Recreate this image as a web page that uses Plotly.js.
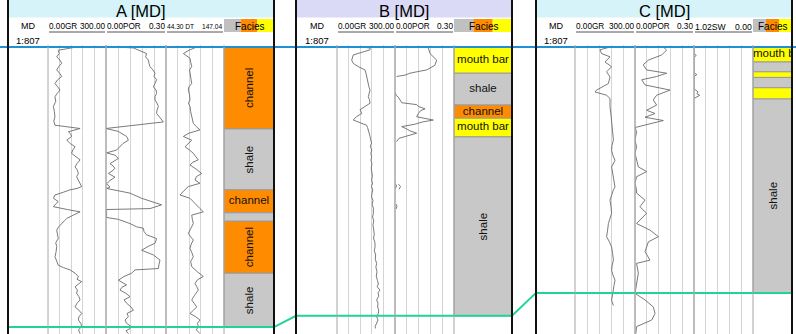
<!DOCTYPE html>
<html><head><meta charset="utf-8">
<script src="https://cdn.plot.ly/plotly-3.0.1.min.js"></script>
<style>html,body{margin:0;padding:0;background:#fff;overflow:hidden}#chart{width:796px;height:334px}</style>
</head><body><div id="chart"></div>
<script>
// ================= DATA =================
const wellNames = ["A", "B", "C"];
const scaleDenom = 807;
// horizon picks (MD): [top horizon (blue), lower horizon (green)]
const horizonA = [1500.0, 1559.8];
const horizonB = [1480.0, 1537.4];
const horizonC = [1520.0, 1572.5];

// curve scales
const grRange = [0.00, 300.00];
const porRange = [0.00, 0.30];
const dtRange = [44.30, 147.04];
const swRange = [1.02, 0.00];

// header labels
const hdrLeftA = ["0.00GR", "0.00POR", "44.30 DT"];
const hdrRightA = ["300.00", "0.30", "147.04"];
const hdrLeftB = ["0.00GR", "0.00POR"];
const hdrRightB = ["300.00", "0.30"];
const hdrLeftC = ["0.00GR", "0.00POR", "1.02SW"];
const hdrRightC = ["300.00", "0.30", "0.00"];

// ---- Well A ----
const mdA_gr = [1500.0,1500.7,1501.4,1502.1,1502.8,1503.5,1504.2,1504.9,1505.6,1506.3,1507.0,1507.8,1508.5,1509.2,1509.9,1510.6,1511.6,1512.7,1513.8,1514.9,1515.8,1516.7,1517.4,1518.1,1518.6,1519.1,1519.9,1520.6,1521.3,1522.0,1522.7,1523.4,1524.1,1524.9,1525.6,1526.3,1527.0,1527.7,1528.4,1529.1,1529.8,1530.2,1530.5,1531.0,1531.6,1532.3,1533.0,1533.5,1534.1,1534.7,1535.2,1535.9,1536.6,1537.1,1537.7,1538.4,1539.1,1540.0,1540.9,1541.8,1542.6,1543.7,1544.8,1545.7,1546.6,1547.1,1547.6,1548.3,1549.0,1549.6,1550.1,1550.7,1551.2,1551.9,1552.6,1553.3,1554.0,1554.7,1555.5,1556.2,1556.9,1557.6,1558.3,1559.0,1559.7,1560.4,1561.2];
const grA = [148,53,58,45,62,71,55,45,60,71,50,36,50,62,48,36,40,28,33,36,30,36,166,105,118,122,97,115,140,128,122,145,166,150,140,152,157,148,157,165,174,150,114,80,36,28,53,40,28,100,166,131,97,85,71,55,45,50,53,40,45,42,36,45,53,80,114,140,157,150,174,155,140,152,148,160,166,150,140,160,174,160,157,170,174,158,166];
const mdA_por = [1500.0,1500.2,1500.8,1501.4,1502.1,1502.8,1503.5,1504.2,1504.9,1505.6,1506.3,1507.0,1507.8,1508.5,1509.2,1509.9,1510.6,1511.3,1512.0,1512.7,1513.5,1514.2,1515.1,1516.0,1517.4,1518.0,1519.1,1519.9,1520.6,1521.3,1522.0,1522.6,1523.1,1523.8,1524.3,1524.9,1525.4,1525.9,1526.5,1527.0,1527.8,1528.5,1529.2,1529.9,1530.2,1531.2,1532.3,1533.4,1533.7,1534.5,1534.7,1535.5,1536.4,1536.8,1537.7,1538.4,1538.7,1539.4,1540.1,1540.9,1541.9,1542.6,1543.4,1544.4,1545.5,1546.4,1547.3,1547.6,1548.3,1549.0,1549.8,1550.8,1551.3,1551.9,1552.6,1553.3,1554.0,1554.7,1555.5,1556.2,1556.9,1557.6,1558.3,1559.0,1559.5,1560.1,1560.6,1561.2];
const porA = [0.053,0.137,0.17,0.203,0.198,0.212,0.215,0.22,0.235,0.245,0.24,0.253,0.245,0.237,0.25,0.253,0.245,0.245,0.255,0.262,0.255,0.253,0.27,0.287,0.0,0.06,0.103,0.112,0.085,0.07,0.053,0.003,0.045,0.062,0.04,0.02,0.035,0.045,0.03,0.012,0.045,0.02,0.003,0.02,0.003,0.12,0.178,0.262,0.278,0.22,0.003,0.003,0.003,0.062,0.12,0.153,0.187,0.19,0.203,0.253,0.245,0.21,0.178,0.237,0.27,0.265,0.262,0.145,0.128,0.09,0.062,0.103,0.08,0.07,0.1,0.12,0.09,0.103,0.125,0.137,0.105,0.112,0.095,0.103,0.12,0.12,0.1,0.112];
const mdA_dt = [1500.0,1500.7,1501.4,1502.4,1503.2,1504.2,1504.9,1505.6,1506.7,1507.8,1508.5,1509.2,1510.2,1511.3,1512.0,1512.7,1513.8,1514.9,1515.6,1516.3,1517.0,1517.7,1518.4,1519.1,1519.9,1520.6,1521.3,1522.0,1522.7,1523.4,1524.1,1524.6,1525.2,1526.1,1527.0,1527.7,1528.4,1529.1,1529.8,1530.7,1531.6,1532.3,1533.4,1534.5,1535.2,1535.9,1536.8,1537.7,1538.8,1539.8,1540.5,1541.2,1542.1,1543.0,1543.9,1544.8,1545.8,1546.9,1548.0,1549.0,1549.7,1550.5,1551.2,1551.9,1553.0,1554.0,1554.7,1555.5,1556.2,1556.9,1557.6,1558.3,1559.0,1559.7,1560.4,1561.2];
const dtA = [98.7,85,75,86.8,88,89.8,86,86.8,88,89.8,85,83.8,86,86.8,84,86.8,88,89.8,91,92.7,98,104.5,85,75,89.8,84,77.9,86,92.7,97,101.5,92,86.8,98,107.5,98,95.7,104.5,83.8,76,69.1,86.8,95,104.5,110.4,89.8,91,92.7,88,83.8,88,92.7,89,86.8,90,92.7,88,89.8,100,110.4,100,95.7,99,101.5,95,89.8,94,98.7,93,86.8,97,104.5,100,101.5,98,104.5];
const faciesA_top = [1500.0, 1517.5, 1530.5, 1535.4, 1537.2, 1548.3];
const faciesA_base = [1517.5, 1530.5, 1535.4, 1537.2, 1548.3, 1559.8];
const faciesA_name = ["channel", "shale", "channel", "shale", "channel", "shale"];

// ---- Well B ----
const mdB_gr = [1480.0,1480.2,1480.6,1481.7,1482.8,1483.5,1484.2,1484.9,1485.6,1486.3,1487.0,1487.8,1488.5,1489.2,1489.9,1490.6,1491.3,1492.0,1492.7,1493.4,1494.2,1494.9,1495.6,1496.0,1496.7,1497.2,1497.7,1498.4,1499.1,1499.8,1500.5,1501.2,1502.0,1502.7,1503.4,1504.2,1505.0,1505.8,1506.9,1507.6,1508.4,1509.1,1509.8,1510.5,1511.2,1512.0,1512.8,1513.6,1514.4,1515.5,1516.3,1517.1,1518.0,1519.1,1520.0,1520.8,1521.7,1522.6,1523.5,1524.4,1525.3,1526.2,1527.0,1528.0,1528.9,1529.8,1530.6,1531.2,1531.9,1532.5,1533.2,1534.0,1534.7,1535.5,1536.2,1536.9,1537.6,1538.3,1539.0,1539.7,1540.1];
const grB = [119,171,171,84,76,84,110,145,150,153,158,162,165,171,165,162,168,171,145,119,128,100,84,110,153,158,162,168,171,174,179,172,180,175,179,176,181,177,179,183,179,184,178,185,181,179,186,182,188,188,184,190,186,188,193,189,196,197,193,200,198,205,201,207,203,209,214,208,222,212,216,205,212,210,216,214,205,212,203,197,200];
const mdB_por = [1480.0,1480.1,1481.4,1482.8,1483.9,1484.9,1485.3,1485.6,1486.0,1486.3,null,1489.8,1490.3,1490.7,1491.3,1491.9,1492.3,1492.7,1493.2,1493.6,1494.2,1494.9,1495.6,1496.0,1496.5,1497.0,1497.5,1497.9,1498.4,1499.0,1499.5,1500.2,null,1509.1,1509.6,1510.3,null,1509.3,1509.8,1510.4,null,1513.5,1514.0,1514.6];
const porB = [0.059,0.169,0.178,0.212,0.203,0.161,0.11,0.076,0.051,0.008,null,0.003,0.005,0.017,0.025,0.034,0.11,0.119,0.153,0.13,0.119,0.11,0.195,0.14,0.1,0.034,0.06,0.076,0.11,0.06,0.02,0.008,null,0.0,0.008,0.002,null,0.018,0.028,0.02,null,0.004,0.01,0.005];
const faciesB_top = [1480.0, 1485.6, 1492.4, 1495.2, 1499.2];
const faciesB_base = [1485.6, 1492.4, 1495.2, 1499.2, 1537.4];
const faciesB_name = ["mouth bar", "shale", "channel", "mouth bar", "shale"];

// ---- Well C ----
const mdC_gr = [1520.0,1520.6,1521.4,1522.1,1523.2,1524.2,1525.3,1526.4,1527.8,1529.2,1529.6,1530.3,1531.0,1532.8,1534.5,1536.4,1538.2,1539.9,1541.0,1542.1,1543.2,1544.2,1545.6,1546.7,1547.8,1548.8,1549.9,1550.5,1551.6,1552.7,1554.1,1555.5,1556.6,1557.7,1559.1,1560.5,1561.6,1562.7,1564.1,1565.5,1566.6,1567.7,1568.7,1569.8,1570.9,1572.0,1573.1,1574.1,1575.2];
const grC = [175,125,133,175,150,183,158,175,167,108,100,158,175,175,180,183,187,192,185,183,190,200,183,188,192,196,200,192,183,175,180,183,175,167,163,158,172,183,188,192,186,183,190,200,195,192,187,183,192];
const mdC_por = [1520.0,1520.64,1521.7,1522.8,1523.8,1524.9,1525.6,1526.3,1527.0,1528.1,1529.2,1530.3,1531.3,1532.4,1533.5,1534.2,1535.0,1535.7,1536.4,1537.2,1538.1,1539.9,1541.3,1542.7,1545.6,1546.6,1547.7,1549.1,1550.5,1551.2,1552.7,1554.1,1555.5,1557.7,1559.1,1560.5,1561.6,1563.7,1565.5,1566.2,1568.3,1570.5,1572.6,1574.0,1575.5,1576.9,1578.3,1579.7,1581.2];
const porC = [0.144,0.161,0.136,0.068,0.042,0.059,0.161,0.110,0.034,0.051,0.178,0.110,0.093,0.110,0.059,0.102,0.051,0.144,0.076,0.0,0.008,0.0,0.008,0.0,0.017,0.059,0.008,0.0,0.008,0.008,0.051,0.025,0.059,0.008,0.076,0.119,0.068,0.051,0.076,0.008,0.017,0.008,0.0,0.051,0.093,0.102,0.085,0.008,0.004];
const mdC_sw = [1520.0,1521.4,1521.8,1522.2,1525.5,1525.9,1526.3,1528.9,1529.6,1530.0,1530.3,1530.8,1531.0];
const swC = [1.02,1.02,0.98,1.02,1.02,0.97,1.02,1.02,0.95,0.97,0.92,0.99,1.02];
const faciesC_top = [1520.0, 1523.2, 1525.3, 1526.5, 1528.7, 1531.1];
const faciesC_base = [1523.2, 1525.3, 1526.5, 1528.7, 1531.1, 1572.5];
const faciesC_name = ["mouth bar", "shale", "mouth bar", "shale", "mouth bar", "shale"];

// ================= STYLE / LAYOUT =================
const W = 796, H = 334;
const faciesColor = {"channel": "#ff8c00", "shale": "#c8c8c8", "mouth bar": "#ffff00"};
const horizonColor = ["#1e90d6", "#1fd39a"];
const pxPerM = 96 / 0.0254 / scaleDenom;
const TOP_PX = 47, GRID_TOP_PX = 45;
const DMIN = -(TOP_PX - GRID_TOP_PX) / pxPerM;
const DMAX = (H - TOP_PX) / pxPerM;
const py = p => 1 - p / H;

const wells = [
  {name: wellNames[0], hz: horizonA, left: 8, right: 274, md: [8, 48], fac: [224, 274], bg: "#d5f3f9",
   tracks: [
     {x: [48, 106], md: mdA_gr, v: grA, range: grRange, l: hdrLeftA[0], r: hdrRightA[0], fs: 8.2},
     {x: [106, 166], md: mdA_por, v: porA, range: porRange, l: hdrLeftA[1], r: hdrRightA[1], fs: 8.2},
     {x: [166, 224], md: mdA_dt, v: dtA, range: dtRange, l: hdrLeftA[2], r: hdrRightA[2], fs: 6.6}],
   fTop: faciesA_top, fBase: faciesA_base, fName: faciesA_name},
  {name: wellNames[1], hz: horizonB, left: 296, right: 512, md: [296, 337], fac: [454, 512], bg: "#dadaf7",
   tracks: [
     {x: [337, 395], md: mdB_gr, v: grB, range: grRange, l: hdrLeftB[0], r: hdrRightB[0], fs: 8.2},
     {x: [395, 454], md: mdB_por, v: porB, range: porRange, l: hdrLeftB[1], r: hdrRightB[1], fs: 8.2}],
   fTop: faciesB_top, fBase: faciesB_base, fName: faciesB_name},
  {name: wellNames[2], hz: horizonC, left: 536, right: 792, md: [536, 575], fac: [753, 792], bg: "#d5f3f9",
   tracks: [
     {x: [575, 635], md: mdC_gr, v: grC, range: grRange, l: hdrLeftC[0], r: hdrRightC[0], fs: 8.2},
     {x: [635, 694], md: mdC_por, v: porC, range: porRange, l: hdrLeftC[1], r: hdrRightC[1], fs: 8.2},
     {x: [694, 753], md: mdC_sw, v: swC, range: swRange, l: hdrLeftC[2], r: hdrRightC[2], fs: 8.6}],
   fTop: faciesC_top, fBase: faciesC_base, fName: faciesC_name}
];

const FONT = "Arial, 'Liberation Sans', sans-serif";
const data = [], shapes = [], annotations = [];
const layout = {
  width: W, height: H, margin: {l: 0, r: 0, t: 0, b: 0},
  paper_bgcolor: "#ffffff", plot_bgcolor: "rgba(0,0,0,0)", showlegend: false,
  font: {family: FONT, color: "#000"},
  yaxis: {domain: [0, (H - GRID_TOP_PX) / H], range: [DMAX, DMIN], visible: false, fixedrange: true},
  shapes, annotations
};
let axN = 0;
function addAxis(dom, range, grid) {
  axN++;
  const key = axN === 1 ? "xaxis" : "xaxis" + axN;
  const lo = Math.min(range[0], range[1]), hi = Math.max(range[0], range[1]);
  layout[key] = {domain: [dom[0] / W, dom[1] / W], range: range, anchor: "y",
    showgrid: grid, gridcolor: "#d4d4d4", gridwidth: 1, tick0: lo, dtick: (hi - lo) / 5,
    showticklabels: false, ticks: "", zeroline: false, showline: false, fixedrange: true};
  return axN === 1 ? "x" : "x" + axN;
}
const ctx = document.createElement("canvas").getContext("2d");
ctx.font = "11px Arial";

wells.forEach(w => {
  const flat = w.hz[0];
  const rel = m => (m === null ? null : m - flat);
  const mdC = (w.md[0] + w.md[1]) / 2;
  // title bar
  shapes.push({type: "rect", xref: "paper", yref: "paper", x0: w.left / W, x1: w.right / W, y0: py(17.5), y1: 1,
    fillcolor: w.bg, line: {width: 0}, layer: "below"});
  annotations.push({xref: "paper", yref: "paper", x: (w.left + w.right) / 2 / W, y: py(10.5), text: w.name + " [MD]",
    showarrow: false, xanchor: "center", yanchor: "middle", font: {size: 16.5, color: "#000"}});
  annotations.push({xref: "paper", yref: "paper", x: mdC / W, y: py(26), text: "MD",
    showarrow: false, xanchor: "center", yanchor: "middle", font: {size: 9}});
  annotations.push({xref: "paper", yref: "paper", x: mdC / W, y: py(40.5), text: "1:" + scaleDenom,
    showarrow: false, xanchor: "center", yanchor: "middle", font: {size: 9.5}});
  // curve tracks
  w.tracks.forEach(t => {
    const ax = addAxis(t.x, t.range, true);
    data.push({type: "scatter", mode: "lines", x: t.v, y: t.md.map(rel), xaxis: ax, yaxis: "y",
      line: {color: "#6b6b6b", width: 0.9}, connectgaps: false, hoverinfo: "skip"});
    [t.x[0], t.x[1]].forEach(xx => shapes.push({type: "line", xref: "paper", yref: "paper",
      x0: xx / W, x1: xx / W, y0: 0, y1: py(GRID_TOP_PX), line: {color: "#a6a6a6", width: 1}, layer: "above"}));
    annotations.push({xref: "paper", yref: "paper", x: (t.x[0] + 1) / W, y: py(26.5), text: t.l,
      showarrow: false, xanchor: "left", yanchor: "middle", xshift: -2, font: {size: t.fs}});
    annotations.push({xref: "paper", yref: "paper", x: (t.x[1] - 1) / W, y: py(26.5), text: t.r,
      showarrow: false, xanchor: "right", yanchor: "middle", xshift: 2, font: {size: t.fs}});
    shapes.push({type: "line", xref: "paper", yref: "paper", x0: (t.x[0] + 1) / W, x1: (t.x[1] - 1) / W,
      y0: py(32), y1: py(32), line: {color: "#555", width: 1}});
  });
  // facies header
  const fw = (w.fac[1] - w.fac[0]) / 3;
  ["#c0c0c0", "#ff8c00", "#ffff00"].forEach((c, i) => shapes.push({type: "rect", xref: "paper", yref: "paper",
    x0: (w.fac[0] + i * fw) / W, x1: (w.fac[0] + (i + 1) * fw) / W, y0: py(32), y1: py(19),
    fillcolor: c, line: {width: 0}, layer: "below"}));
  annotations.push({xref: "paper", yref: "paper", x: (w.fac[0] + w.fac[1]) / 2 / W, y: py(26), text: "Facies",
    showarrow: false, xanchor: "center", yanchor: "middle", font: {size: 10}});
  // facies column
  const fax = addAxis(w.fac, [0, 1], false);
  const trackW = w.fac[1] - w.fac[0];
  w.fTop.forEach((top, i) => {
    const base = w.fBase[i], name = w.fName[i];
    shapes.push({type: "rect", xref: "paper", yref: "y", x0: w.fac[0] / W, x1: w.fac[1] / W,
      y0: rel(top), y1: rel(base), fillcolor: faciesColor[name], line: {color: "#9a9a9a", width: 1}, layer: "below"});
    const hPx = (base - top) * pxPerM;
    const mid = rel((top + base) / 2);
    if (hPx < 12) return;
    if (hPx > trackW) {
      annotations.push({xref: "paper", yref: "y", x: (w.fac[0] + w.fac[1]) / 2 / W, y: mid, text: name,
        textangle: -90, showarrow: false, xanchor: "center", yanchor: "middle", font: {size: 11.5, color: "#111"}});
    } else {
      const tw = ctx.measureText(name).width;
      const fits = tw + 2 <= trackW;
      data.push({type: "scatter", mode: "text", x: [fits ? 0.5 : 0], y: [mid], text: [name], xaxis: fax, yaxis: "y",
        textposition: fits ? "middle center" : "middle right", cliponaxis: true,
        textfont: {size: 11.5, color: "#111", family: FONT}, hoverinfo: "skip"});
    }
  });
});

// panel borders
wells.forEach(w => [w.left, w.right].forEach(xx => shapes.push({type: "line", xref: "paper", yref: "paper",
  x0: xx / W, x1: xx / W, y0: 0, y1: 1, line: {color: "#111", width: 2}, layer: "above"})));

// correlation (horizon) lines across wells
const cax = addAxis([0, W], [0, W], false);
[0, 1].forEach(h => {
  const xs = [], ys = [];
  wells.forEach((w, i) => {
    const d = w.hz[h] - w.hz[0];
    xs.push(h === 0 && i === 0 ? 0 : w.left, h === 0 && i === wells.length - 1 ? W : w.right);
    ys.push(d, d);
  });
  data.push({type: "scatter", mode: "lines", x: xs, y: ys, xaxis: cax, yaxis: "y",
    line: {color: horizonColor[h], width: 2}, hoverinfo: "skip"});
});

Plotly.newPlot("chart", data, layout, {staticPlot: true, displayModeBar: false});
</script></body></html>
